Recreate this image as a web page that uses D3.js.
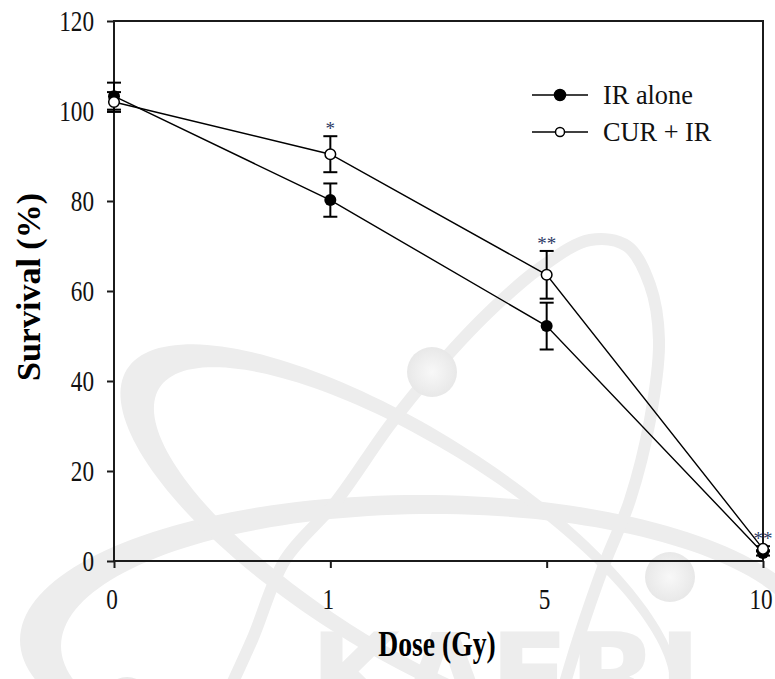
<!DOCTYPE html>
<html>
<head>
<meta charset="utf-8">
<script src="https://cdn.jsdelivr.net/npm/d3@7"></script>
<style>
  html, body { margin: 0; padding: 0; background: #ffffff; }
  svg { display: block; }
  .serif { font-family: "Liberation Serif", "Times New Roman", serif; }
</style>
</head>
<body>
<svg id="chart" width="775" height="679"></svg>
<script>
// Survival after irradiation, with and without curcumin pre-treatment
const doses = ["0", "1", "5", "10"];
const irAlone = [103.3, 80.2, 52.2, 1.8];
const irAloneErr = [3.0, 3.7, 5.2, 0.6];
const curIr = [102.0, 90.4, 63.6, 2.7];
const curIrErr = [2.2, 4.0, 5.3, 0.6];
const significance = ["", "*", "**", "**"];
const yTicks = [0, 20, 40, 60, 80, 100, 120];
const seriesNames = ["IR alone", "CUR + IR"];

const svg = d3.select("#chart");
const plot = { left: 114, right: 763, top: 21, bottom: 561 };

const x = d3.scalePoint().domain(doses).range([plot.left, plot.right]);
const y = d3.scaleLinear().domain([0, 120]).range([plot.bottom, plot.top]);

// ---- faint emblem in the background ----
const wm = svg.append("g").attr("class", "watermark");
const wmFill = "#ededed";

function ellipsePath(cx, cy, rx, ry, rotDeg, n = 180) {
  const t = rotDeg * Math.PI / 180, c = Math.cos(t), s = Math.sin(t);
  const pts = d3.range(n).map(i => {
    const a = 2 * Math.PI * i / n;
    const ex = rx * Math.cos(a), ey = ry * Math.sin(a);
    return [cx + ex * c - ey * s, cy + ex * s + ey * c];
  });
  return "M" + pts.map(p => p.join(",")).join("L") + "Z";
}
function crescent(outer, inner) {
  wm.append("path")
    .attr("d", ellipsePath(...outer) + ellipsePath(...inner))
    .attr("fill", wmFill)
    .attr("fill-rule", "evenodd");
}
// wide horizontal orbit
crescent([420, 640, 400, 145, 0], [433, 646, 372, 132, 0]);
// tilted orbit on the left
crescent([400, 540, 322, 113, 32], [412, 546, 298, 99, 32]);
// tall orbit through the upper ball
const orbitC = [[215, 720], [252, 640], [285, 560], [335, 503], [390, 425], [432, 373],
  [488, 313], [540, 268], [590, 240], [627, 246], [650, 285], [659, 340], [650, 420],
  [630, 500], [604, 565], [578, 640], [560, 700]];
wm.append("path")
  .attr("d", d3.line().curve(d3.curveCatmullRom)(orbitC))
  .attr("fill", "none").attr("stroke", wmFill).attr("stroke-width", 12);

const grad = svg.append("defs").append("radialGradient").attr("id", "ball")
  .attr("cx", "50%").attr("cy", "50%").attr("r", "50%");
grad.append("stop").attr("offset", "0%").attr("stop-color", "#f8f8f8");
grad.append("stop").attr("offset", "100%").attr("stop-color", "#e8e8e8");
[[432, 372], [670, 577], [127, 702]].forEach(([cx, cy]) => {
  wm.append("circle").attr("cx", cx).attr("cy", cy).attr("r", 25).attr("fill", "url(#ball)");
});
wm.append("text")
  .attr("x", 310).attr("y", 716)
  .attr("font-family", "DejaVu Sans, sans-serif")
  .attr("font-weight", "bold")
  .attr("font-size", 116)
  .attr("fill", "#ededed")
  .text("KAERI");

// ---- axes frame and ticks ----
const axisColor = "#1b1b1b";
svg.append("rect")
  .attr("x", plot.left).attr("y", plot.top)
  .attr("width", plot.right - plot.left).attr("height", plot.bottom - plot.top)
  .attr("fill", "none").attr("stroke", axisColor).attr("stroke-width", 2);

const yAxis = svg.append("g")
  .attr("transform", `translate(${plot.left},0)`)
  .call(d3.axisLeft(y).tickValues(yTicks).tickSize(7).tickSizeOuter(0).tickFormat(""));
yAxis.select(".domain").remove();
yAxis.selectAll(".tick line").attr("stroke", axisColor).attr("stroke-width", 2);

const xAxis = svg.append("g")
  .attr("transform", `translate(0,${plot.bottom})`)
  .call(d3.axisBottom(x).tickSize(7).tickSizeOuter(0).tickFormat(""));
xAxis.select(".domain").remove();
xAxis.selectAll(".tick line").attr("stroke", axisColor).attr("stroke-width", 2);

// tick labels (slightly condensed serif)
svg.append("g").selectAll("text").data(yTicks).join("text")
  .attr("class", "serif")
  .attr("transform", d => `translate(94,${y(d) + 10}) scale(0.8,1)`)
  .attr("text-anchor", "end")
  .attr("font-size", 29)
  .attr("fill", "#111")
  .text(d => d);

svg.append("g").selectAll("text").data(doses).join("text")
  .attr("class", "serif")
  .attr("transform", d => `translate(${x(d) - 2},609) scale(0.8,1)`)
  .attr("text-anchor", "middle")
  .attr("font-size", 29)
  .attr("fill", "#111")
  .text(d => d);

// axis titles
svg.append("text")
  .attr("class", "serif")
  .attr("transform", "translate(437,656) scale(0.79,1)")
  .attr("text-anchor", "middle")
  .attr("font-size", 35)
  .attr("font-weight", "bold")
  .attr("fill", "#000")
  .text("Dose (Gy)");

svg.append("text")
  .attr("class", "serif")
  .attr("transform", "translate(40,287) rotate(-90)")
  .attr("text-anchor", "middle")
  .attr("font-size", 34)
  .attr("font-weight", "bold")
  .attr("fill", "#000")
  .text("Survival (%)");

// ---- data ----
const rows = doses.map((d, i) => ({
  dose: d, ir: irAlone[i], irE: irAloneErr[i], cur: curIr[i], curE: curIrErr[i], sig: significance[i]
}));
const line = key => d3.line().x(d => x(d.dose)).y(d => y(d[key]));

const dataG = svg.append("g");
dataG.append("path").datum(rows).attr("d", line("ir"))
  .attr("fill", "none").attr("stroke", "#000").attr("stroke-width", 1.4);
dataG.append("path").datum(rows).attr("d", line("cur"))
  .attr("fill", "none").attr("stroke", "#000").attr("stroke-width", 1.4);

function errorBars(key, errKey) {
  const g = dataG.append("g");
  rows.forEach(d => {
    const cx = x(d.dose), y0 = y(d[key] - d[errKey]), y1 = y(d[key] + d[errKey]);
    g.append("line").attr("x1", cx).attr("x2", cx).attr("y1", y0).attr("y2", y1)
      .attr("stroke", "#000").attr("stroke-width", 2);
    [y0, y1].forEach(yy => g.append("line")
      .attr("x1", cx - 7).attr("x2", cx + 7).attr("y1", yy).attr("y2", yy)
      .attr("stroke", "#000").attr("stroke-width", 2));
  });
}
errorBars("ir", "irE");
errorBars("cur", "curE");

dataG.append("g").selectAll("circle").data(rows).join("circle")
  .attr("cx", d => x(d.dose)).attr("cy", d => y(d.ir)).attr("r", 6)
  .attr("fill", "#000");
dataG.append("g").selectAll("circle").data(rows).join("circle")
  .attr("cx", d => x(d.dose)).attr("cy", d => y(d.cur)).attr("r", 5.3)
  .attr("fill", "#fff").attr("stroke", "#000").attr("stroke-width", 1.5);

// significance marks above the CUR + IR error bars
dataG.append("g").selectAll("text").data(rows.filter(d => d.sig)).join("text")
  .attr("class", "serif")
  .attr("x", d => x(d.dose))
  .attr("y", d => y(d.cur + d.curE) - 1)
  .attr("text-anchor", "middle")
  .attr("font-size", 19)
  .attr("fill", "#2e3a66")
  .text(d => d.sig);

// ---- legend ----
const legend = svg.append("g");
const legendRows = [
  { name: seriesNames[0], filled: true, y: 95 },
  { name: seriesNames[1], filled: false, y: 132 }
];
legendRows.forEach(r => {
  legend.append("line").attr("x1", 532).attr("x2", 588).attr("y1", r.y).attr("y2", r.y)
    .attr("stroke", "#000").attr("stroke-width", 1.6);
  legend.append("circle").attr("cx", 560).attr("cy", r.y).attr("r", r.filled ? 5.5 : 4.5)
    .attr("fill", r.filled ? "#000" : "#fff").attr("stroke", "#000").attr("stroke-width", 1.5);
  legend.append("text")
    .attr("class", "serif")
    .attr("transform", `translate(603,${r.y + 9}) scale(0.94,1)`)
    .attr("font-size", 28)
    .attr("fill", "#111")
    .text(r.name);
});
</script>
</body>
</html>
